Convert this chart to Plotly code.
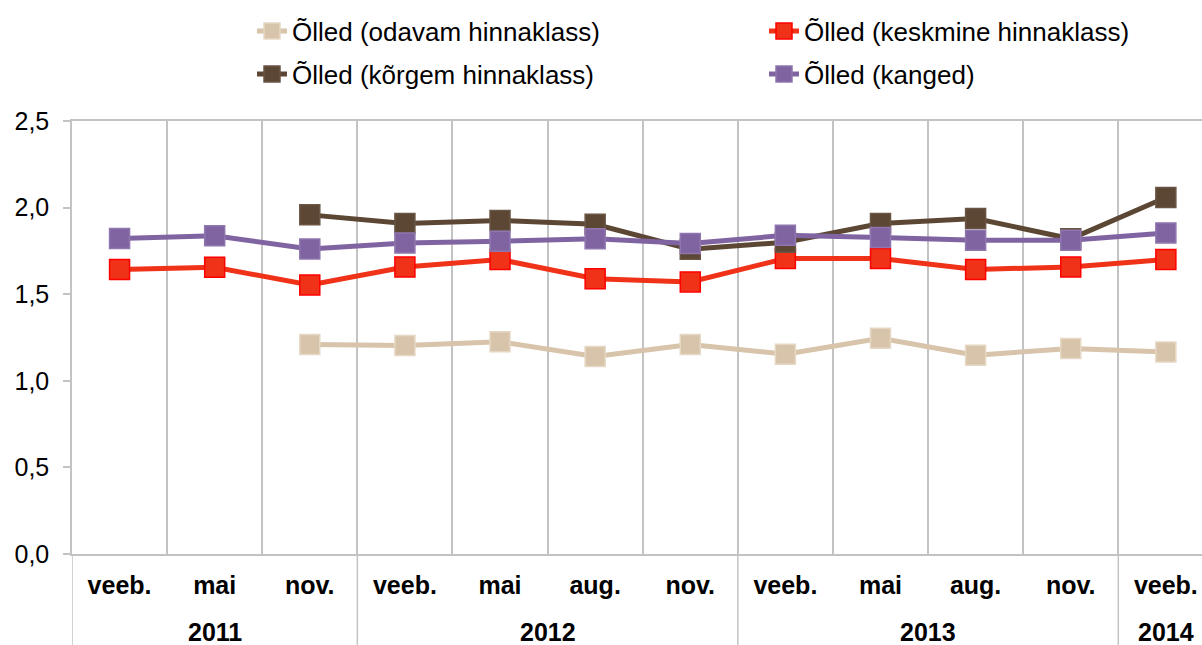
import plotly.graph_objects as go

years = ["2011", "2011", "2011", "2012", "2012", "2012", "2012",
         "2013", "2013", "2013", "2013", "2014"]
months = ["veeb.", "mai", "nov.", "veeb.", "mai", "aug.", "nov.",
          "veeb.", "mai", "aug.", "nov.", "veeb."]

odavam = [None, None, 1.21, 1.204, 1.226, 1.14, 1.21, 1.154, 1.245, 1.148, 1.187, 1.166]
keskmine = [1.642, 1.656, 1.553, 1.657, 1.70, 1.589, 1.571, 1.706, 1.706, 1.643, 1.657, 1.70]
korgem = [None, None, 1.958, 1.908, 1.926, 1.904, 1.76, 1.80, 1.908, 1.937, 1.82, 2.058]
kanged = [1.822, 1.838, 1.761, 1.796, 1.806, 1.82, 1.793, 1.84, 1.827, 1.812, 1.812, 1.854]

names = ["Õlled (odavam hinnaklass)", "Õlled (keskmine hinnaklass)",
         "Õlled (kõrgem hinnaklass)", "Õlled (kanged)"]
series = [odavam, keskmine, korgem, kanged]
line_colors = ["#d7c4aa", "#ef3218", "#5c4735", "#8064a2"]
marker_lines = ["#e6d8c4", "#ff0000", "#6a5544", "#8f76ae"]

FONT = "Liberation Sans, Arial, sans-serif"
grid = "#c3c3c3"

idx = list(range(len(months)))

fig = go.Figure()
legend_ids = ["legend", "legend2", "legend3", "legend4"]
for name, vals, lc, ml, lg in zip(names, series, line_colors, marker_lines, legend_ids):
    fig.add_trace(go.Scatter(
        x=idx, y=vals, name=name, mode="lines+markers",
        line=dict(color=lc, width=5),
        marker=dict(symbol="square", size=20, color=lc, line=dict(color=ml, width=1.5)),
        legend=lg,
    ))

# year group labels and dividers (derived from the years list)
groups = []
for i, yv in enumerate(years):
    if not groups or groups[-1][0] != yv:
        groups.append([yv, i, i])
    else:
        groups[-1][2] = i

annotations = []
shapes = []
for yv, a, b in groups:
    annotations.append(dict(x=(a + b) / 2, y=-0.18, xref="x", yref="paper",
                            text=yv, showarrow=False, xanchor="center", yanchor="middle",
                            font=dict(family=FONT, size=25, color="black", weight="bold")))
    shapes.append(dict(type="line", xref="x", yref="paper", x0=a - 0.5, x1=a - 0.5,
                       y0=0, y1=-0.215, line=dict(color=grid, width=1.5)))

leg_common = dict(orientation="h", xanchor="left", yanchor="middle",
                  font=dict(family=FONT, size=26, color="black"), bgcolor="rgba(0,0,0,0)")
row1, row2 = (554 - 31) / 433, (554 - 74) / 433
col1, col2 = (252 - 72) / 1130, (764 - 72) / 1130

fig.update_layout(
    width=1202, height=645,
    margin=dict(l=72, r=0, t=121, b=91, autoexpand=False),
    paper_bgcolor="white", plot_bgcolor="white",
    separators=",.",
    font=dict(family=FONT, size=24, color="black"),
    showlegend=True,
    legend=dict(x=col1, y=row1, **leg_common),
    legend2=dict(x=col2, y=row1, **leg_common),
    legend3=dict(x=col1, y=row2, **leg_common),
    legend4=dict(x=col2, y=row2, **leg_common),
    annotations=annotations,
    shapes=shapes,
    xaxis=dict(
        range=[-0.5, 11.38], automargin=False,
        tickmode="array", tickvals=idx, ticktext=months,
        showgrid=False,
        minor=dict(tick0=-0.5, dtick=1, showgrid=True, gridcolor=grid, gridwidth=1.5, ticks=""),
        showline=True, linecolor=grid, linewidth=1.5, mirror=True,
        ticks="", ticklabelstandoff=8,
        tickfont=dict(family=FONT, size=25, color="black", weight="bold"),
        zeroline=False,
    ),
    yaxis=dict(
        range=[0, 2.5], dtick=0.5, tick0=0, tickformat=".1f", automargin=False,
        showgrid=False, zeroline=False,
        showline=True, linecolor=grid, linewidth=1.5,
        ticks="outside", ticklen=7, tickcolor=grid, tickwidth=1.5,
        ticklabelstandoff=9,
        tickfont=dict(family=FONT, size=25, color="black"),
    ),
)

fig.write_html("out.html", config={"displayModeBar": False},
               post_script="document.body.style.margin='0px';")
